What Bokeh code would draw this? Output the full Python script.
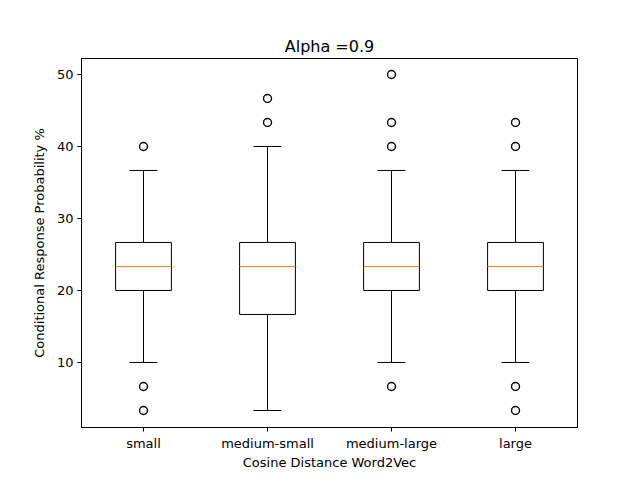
from bokeh.plotting import figure
from bokeh.models import ColumnDataSource, FixedTicker, Range1d
from bokeh.embed import file_html
from bokeh.resources import INLINE

categories = ["small", "medium-small", "medium-large", "large"]
q1 = [20.0, 16.67, 20.0, 20.0]
median = [23.33, 23.33, 23.33, 23.33]
q3 = [26.67, 26.67, 26.67, 26.67]
whisker_low = [10.0, 3.33, 10.0, 10.0]
whisker_high = [36.67, 40.0, 36.67, 36.67]
outliers = [
    [40.0, 6.67, 3.33],
    [43.33, 46.67],
    [40.0, 43.33, 50.0, 6.67],
    [40.0, 43.33, 6.67, 3.33],
]

positions = list(range(1, len(categories) + 1))
box_w = 0.45
cap_w = box_w / 2

p = figure(width=640, height=480, output_backend="svg", toolbar_location=None,
           x_range=Range1d(0.5, 4.5), y_range=Range1d(0.97, 52.22),
           min_border_left=81, min_border_right=63, min_border_top=58, min_border_bottom=53,
           title="Alpha =0.9")
p.title.align = "center"
p.title.text_font = "DejaVu Sans"
p.title.text_font_size = "16px"
p.title.text_font_style = "normal"
p.title.text_color = "black"
p.title.offset = 0
p.title.standoff = 6

src = ColumnDataSource(dict(
    x=positions, q1=q1, med=median, q3=q3, lo=whisker_low, hi=whisker_high,
    left=[x - box_w / 2 for x in positions], right=[x + box_w / 2 for x in positions],
    cl=[x - cap_w / 2 for x in positions], cr=[x + cap_w / 2 for x in positions],
))

# whiskers
p.segment(x0="x", y0="q3", x1="x", y1="hi", source=src, line_color="black", line_width=1)
p.segment(x0="x", y0="lo", x1="x", y1="q1", source=src, line_color="black", line_width=1)
# caps
p.segment(x0="cl", y0="hi", x1="cr", y1="hi", source=src, line_color="black", line_width=1)
p.segment(x0="cl", y0="lo", x1="cr", y1="lo", source=src, line_color="black", line_width=1)
# boxes
p.quad(left="left", right="right", bottom="q1", top="q3", source=src,
       fill_color=None, line_color="black", line_width=1)
# medians
p.segment(x0="left", y0="med", x1="right", y1="med", source=src, line_color="#ff7f0e", line_width=1)

ox, oy = [], []
for x, vals in zip(positions, outliers):
    for v in vals:
        ox.append(x)
        oy.append(v)
p.scatter(ox, oy, size=8, marker="circle", fill_color=None, line_color="black", line_width=1.4)

p.xaxis.ticker = FixedTicker(ticks=positions)
p.xaxis.major_label_overrides = {x: c for x, c in zip(positions, categories)}
p.yaxis.ticker = FixedTicker(ticks=[10, 20, 30, 40, 50])
p.xaxis.axis_label = "Cosine Distance Word2Vec"
p.yaxis.axis_label = "Conditional Response Probability %"

for ax in [p.xaxis[0], p.yaxis[0]]:
    ax.axis_label_text_font = "DejaVu Sans"
    ax.axis_label_text_font_size = "13px"
    ax.axis_label_text_font_style = "normal"
    ax.major_label_text_font = "DejaVu Sans"
    ax.major_label_text_font_size = "13px"
    ax.major_label_text_color = "black"
    ax.axis_label_text_color = "black"
    ax.major_tick_out = 4
    ax.major_tick_in = 0
    ax.minor_tick_out = 0
    ax.minor_tick_in = 0
    ax.axis_line_color = "black"
    ax.major_tick_line_color = "black"
    ax.major_label_standoff = 4
p.xaxis.axis_label_standoff = 1
p.yaxis.axis_label_standoff = 7

p.xgrid.grid_line_color = None
p.ygrid.grid_line_color = None
p.outline_line_color = "black"
p.outline_line_alpha = 1.0
p.background_fill_color = "white"
p.border_fill_color = "white"

open("out.html", "w").write(file_html(p, INLINE))
